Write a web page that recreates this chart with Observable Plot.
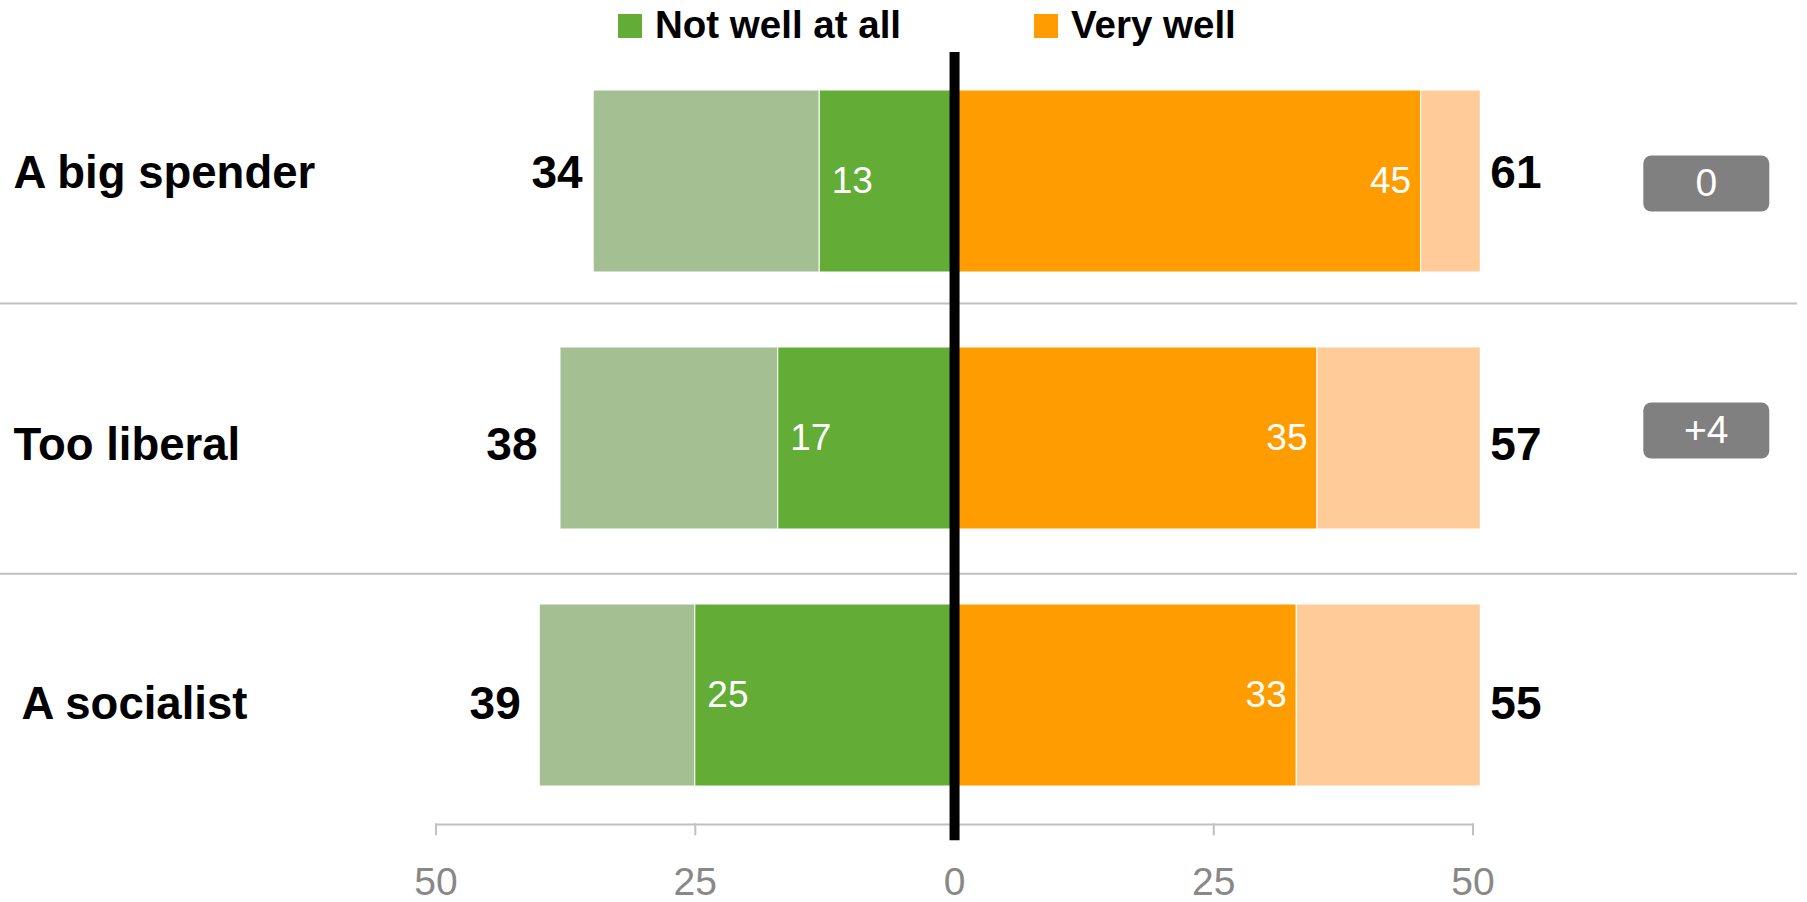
<!DOCTYPE html>
<html>
<head>
<meta charset="utf-8">
<script src="https://cdn.jsdelivr.net/npm/d3@7"></script>
<script src="https://cdn.jsdelivr.net/npm/@observablehq/plot@0.6"></script>
<style>
  html, body { margin: 0; padding: 0; background: #ffffff; }
  body { font-family: "Liberation Sans", Arial, Helvetica, sans-serif; width: 1807px; }
  #legend { position: relative; width: 1807px; height: 52px; }
  .sw { position: absolute; top: 14px; width: 24px; height: 24px; }
  .lt { position: absolute; top: 6.4px; font-size: 38.5px; line-height: 1; font-weight: bold; color: #000; white-space: nowrap; }
  #chart svg { display: block; }
</style>
</head>
<body>
<div id="legend"></div>
<div id="chart"></div>
<script>
// ---- data ----
const categories = ["A big spender", "Too liberal", "A socialist"];
const notWellAtAll = [13, 17, 25];
const notWellTotal = [34, 38, 39];          // labels
const notWellBarLength = [34.8, 38, 40];    // bar extents as drawn
const veryWell = [45, 35, 33];
const wellTotal = [61, 57, 55];
const changes = ["0", "+4", null];
const tickValues = [-50, -25, 0, 25, 50];
const seriesNames = ["Not well at all", "Very well"];

// ---- styles ----
const colors = {
  lightGreen: "#A4BF91",
  green: "#63AD37",
  orange: "#FF9C00",
  lightOrange: "#FFCC99",
  badge: "#808080",
  rule: "#C0C0C0",
  tick: "#888888"
};
const rowTextDy = [-8, 7, 9];       // vertical nudge of the row labels / totals
const rowLabelDx = [0, 0, 8];       // horizontal nudge of the category labels
const leftTotalDx = [-11, -23, -19];
const badgeDy = [2, -8, 0];

// legend
const legend = document.getElementById("legend");
[
  {name: seriesNames[0], color: colors.green, sw: 618, tx: 655},
  {name: seriesNames[1], color: colors.orange, sw: 1034, tx: 1071}
].forEach(l => {
  const s = document.createElement("div");
  s.className = "sw"; s.style.left = l.sw + "px"; s.style.background = l.color;
  legend.appendChild(s);
  const t = document.createElement("div");
  t.className = "lt"; t.style.left = l.tx + "px"; t.textContent = l.name;
  legend.appendChild(t);
});

const rows = categories.map((c, i) => ({
  index: i,
  category: c,
  notWell: notWellAtAll[i],
  leftTotal: notWellTotal[i],
  leftBar: notWellBarLength[i],
  very: veryWell[i],
  rightTotal: wellTotal[i],
  change: changes[i]
}));

const W = 1807, H = 850;
const mLeft = 428.3, mRight = 327.2, mTop = 0, mBottom = 78.7;
const step = 257.2;

const roundRect = {
  draw(context) {
    const w = 126, h = 56, r = 8;
    const x0 = -w / 2, y0 = -h / 2, x1 = w / 2, y1 = h / 2;
    context.moveTo(x0 + r, y0);
    context.lineTo(x1 - r, y0);
    context.arcTo(x1, y0, x1, y0 + r, r);
    context.lineTo(x1, y1 - r);
    context.arcTo(x1, y1, x1 - r, y1, r);
    context.lineTo(x0 + r, y1);
    context.arcTo(x0, y1, x0, y1 - r, r);
    context.lineTo(x0, y0 + r);
    context.arcTo(x0, y0, x0 + r, y0, r);
    context.closePath();
  }
};

const font = "'Liberation Sans', Arial, Helvetica, sans-serif";
const [tMin, tMax] = d3.extent(tickValues);
const sepStyle = {stroke: colors.rule, strokeWidth: 2, insetLeft: -mLeft, insetRight: -(mRight - 10)};

// per-row text marks (each row gets its own nudge)
const rowTextMarks = rows.flatMap(r => {
  const d = [r];
  const dy = rowTextDy[r.index];
  return [
    Plot.text(d, {y: "category", text: "category", frameAnchor: "left", textAnchor: "start", dx: 13 - mLeft + rowLabelDx[r.index], dy, fontSize: 45.5, fontWeight: "bold", fill: "#000"}),
    Plot.text(d, {y: "category", x: v => -v.leftBar, text: v => String(v.leftTotal), textAnchor: "end", dx: leftTotalDx[r.index], dy, fontSize: 46, fontWeight: "bold", fill: "#000"}),
    Plot.text(d, {y: "category", text: v => String(v.rightTotal), frameAnchor: "right", textAnchor: "start", dx: 10, dy, fontSize: 46, fontWeight: "bold", fill: "#000"})
  ];
});
const badgeMarks = rows.filter(r => r.change != null).flatMap(r => {
  const d = [r];
  const dy = badgeDy[r.index];
  return [
    Plot.dot(d, {y: "category", frameAnchor: "right", dx: 226, dy, symbol: roundRect, fill: colors.badge, stroke: null}),
    Plot.text(d, {y: "category", text: "change", frameAnchor: "right", textAnchor: "middle", dx: 226, dy, fontSize: 39, fill: "#fff"})
  ];
});

const chart = Plot.plot({
  width: W,
  height: H,
  marginLeft: mLeft,
  marginRight: mRight,
  marginTop: mTop,
  marginBottom: mBottom,
  style: {fontFamily: font, background: "#ffffff", overflow: "visible"},
  x: {domain: [-50.7, 50.7], axis: null},
  y: {domain: categories, axis: null, paddingInner: 0.292, paddingOuter: 0.1454},
  marks: [
    // row separators
    Plot.ruleY([categories[1]], {...sepStyle, dy: -135}),
    Plot.ruleY([categories[2]], {...sepStyle, dy: -121.7}),
    // bars
    Plot.barX(rows, {y: "category", x1: d => -d.leftBar, x2: d => -d.notWell, fill: colors.lightGreen, stroke: "#fff", strokeWidth: 1}),
    Plot.barX(rows, {y: "category", x1: d => -d.notWell, x2: d => 0, fill: colors.green, stroke: "#fff", strokeWidth: 1}),
    Plot.barX(rows, {y: "category", x1: d => 0, x2: "very", fill: colors.orange, stroke: "#fff", strokeWidth: 1}),
    Plot.barX(rows, {y: "category", x1: "very", x2: "rightTotal", fill: colors.lightOrange, stroke: "#fff", strokeWidth: 1, clip: true}),
    // axis line + ticks
    Plot.ruleY([categories[categories.length - 1]], {x1: d => tMin, x2: d => tMax, stroke: colors.rule, strokeWidth: 2, dy: step / 2 + 0.3}),
    Plot.axisX(tickValues, {
      anchor: "bottom",
      tickSize: 12,
      tickPadding: 31.7,
      tickFormat: d => Math.abs(d),
      fontSize: 39,
      stroke: colors.rule,
      strokeWidth: 2,
      fill: colors.tick,
      label: null
    }),
    // zero line
    Plot.ruleX([0], {stroke: "#000", strokeWidth: 10, insetBottom: -17}),
    // row labels and totals
    ...rowTextMarks,
    // in-bar labels
    Plot.text(rows, {y: "category", x: d => -d.notWell, text: d => String(d.notWell), textAnchor: "start", dx: 12, fontSize: 37, fill: "#fff"}),
    Plot.text(rows, {y: "category", x: "very", text: d => String(d.very), textAnchor: "end", dx: -10, fontSize: 37, fill: "#fff"}),
    // change badges
    ...badgeMarks
  ]
});
document.getElementById("chart").appendChild(chart);
</script>
</body>
</html>
